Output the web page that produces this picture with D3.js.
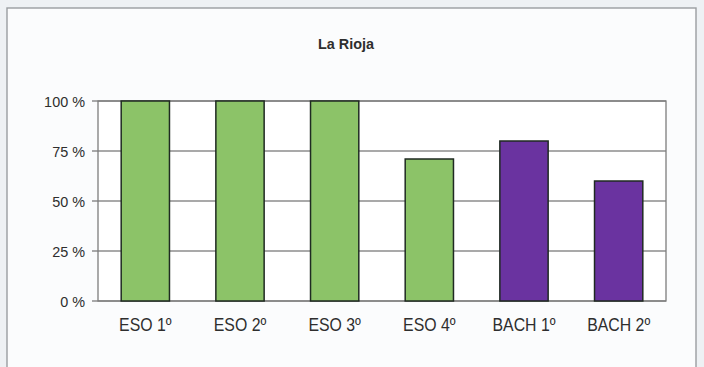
<!DOCTYPE html>
<html><head><meta charset="utf-8">
<script src="https://cdn.jsdelivr.net/npm/d3@7"></script>
<style>
html,body{margin:0;padding:0;background:#eef1f4;}
svg{display:block;}
text{font-family:"Liberation Sans",Arial,sans-serif;fill:#2e2e2e;}
</style></head>
<body>
<svg id="c" width="704" height="367"></svg>
<script>
const title = "La Rioja";
const categories = ["ESO 1º","ESO 2º","ESO 3º","ESO 4º","BACH 1º","BACH 2º"];
const values = [100, 100, 100, 71, 80, 60];
const groups = ["ESO","ESO","ESO","ESO","BACH","BACH"];
const yTicks = [0, 25, 50, 75, 100];

const svg = d3.select("#c");
// outer panel
svg.append("rect").attr("x",7).attr("y",8).attr("width",689).attr("height",380)
  .attr("fill","#fbfcfd").attr("stroke","#9a9da0").attr("stroke-width",1.4);

const m = {left:98, right:666, top:101, bottom:301};
const x = d3.scaleBand().domain(categories).range([m.left,m.right]).paddingInner(0.49).paddingOuter(0.245);
const y = d3.scaleLinear().domain([0,100]).range([m.bottom,m.top]);
const color = d3.scaleOrdinal().domain(["ESO","BACH"]).range(["#8cc368","#6a33a0"]);

svg.append("rect").attr("x",m.left).attr("y",m.top).attr("width",m.right-m.left).attr("height",m.bottom-m.top)
  .attr("fill","#ffffff");

// gridlines
svg.append("g").selectAll("line").data(yTicks).join("line")
  .attr("x1",m.left-6).attr("x2",m.right)
  .attr("y1",d=>y(d)).attr("y2",d=>y(d))
  .attr("stroke","#8c8c8c").attr("stroke-width",1.3);

// plot border
svg.append("rect").attr("x",m.left).attr("y",m.top).attr("width",m.right-m.left).attr("height",m.bottom-m.top)
  .attr("fill","none").attr("stroke","#7d7d7d").attr("stroke-width",1.3);

// bars
svg.append("g").selectAll("rect").data(categories).join("rect")
  .attr("x",d=>x(d)).attr("width",x.bandwidth())
  .attr("y",(d,i)=>y(values[i])).attr("height",(d,i)=>y(0)-y(values[i]))
  .attr("fill",(d,i)=>color(groups[i]))
  .attr("stroke","#1f2a22").attr("stroke-width",1.5);

// axes labels
const yAxis = d3.axisLeft(y).tickValues(yTicks).tickFormat(d=>d+" %").tickSize(0).tickPadding(13);
const gy = svg.append("g").attr("transform",`translate(${m.left},0)`).call(yAxis);
gy.select(".domain").remove();
gy.selectAll("text").style("font-size","15.5px").style("fill","#2e2e2e").attr("dy","0.36em")
  .each(function(){ const w=this.getComputedTextLength(); d3.select(this).attr("textLength",w*0.93).attr("lengthAdjust","spacingAndGlyphs"); });

const xAxis = d3.axisBottom(x).tickSize(0).tickPadding(17);
const gx = svg.append("g").attr("transform",`translate(0,${m.bottom})`).call(xAxis);
gx.select(".domain").remove();
gx.selectAll("text").style("font-size","18px").style("fill","#2e2e2e")
  .each(function(){ const w=this.getComputedTextLength(); d3.select(this).attr("textLength",w*0.88).attr("lengthAdjust","spacingAndGlyphs"); });

svg.append("text").attr("x",346).attr("y",49).attr("text-anchor","middle")
  .style("font-size","15.5px").style("font-weight","bold").text(title)
  .each(function(){ const w=this.getComputedTextLength(); d3.select(this).attr("textLength",w*0.93).attr("lengthAdjust","spacingAndGlyphs"); });
</script>
</body></html>
